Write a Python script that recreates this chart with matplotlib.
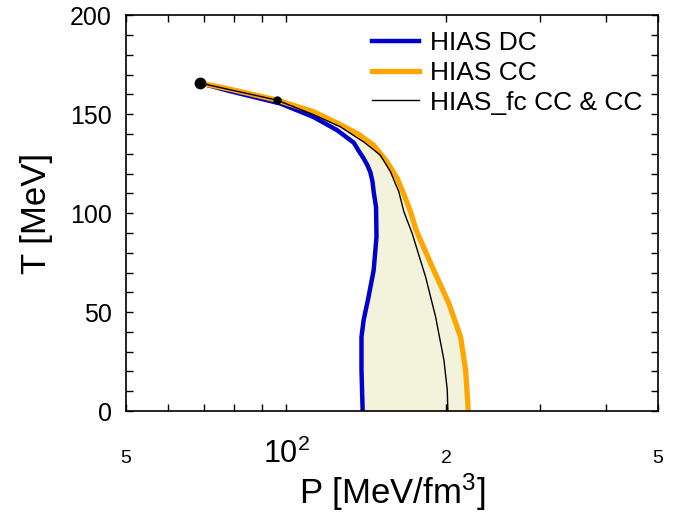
import numpy as np
import matplotlib
matplotlib.use("Agg")
import matplotlib.pyplot as plt
from matplotlib.ticker import FixedLocator

plt.rcParams['font.family'] = ['Liberation Sans', 'DejaVu Sans']
plt.rcParams['mathtext.fontset'] = 'custom'
plt.rcParams['mathtext.rm'] = 'Liberation Sans'
plt.rcParams['mathtext.it'] = 'Liberation Sans'

dc_P = [139.3, 138.6, 138.6, 139.9, 142.9, 146.1, 147.9, 147.6, 146.1, 145.4, 144.0, 142.2, 139.9, 136.7, 134.0, 124.7, 112.5, 97.5, 78.5, 68.9]
dc_T = [0, 20.7, 37.5, 46.0, 57.7, 71.2, 88.0, 103.0, 110.8, 115.7, 120.7, 124.2, 127.6, 131.8, 135.6, 141.9, 148.6, 155.4, 161.6, 165.7]

# HIAS CC (orange)
cc_P = [220.0, 217.5, 212.8, 202.3, 188.2, 175.6, 171.4, 166.5, 161.8, 154.8, 146.1, 136.9, 126.5, 112.7, 96.1, 78.5, 68.9]
cc_T = [0, 20.7, 37.5, 54.4, 72.9, 91.4, 100.7, 109.5, 117.5, 125.9, 134.3, 139.8, 144.7, 151.2, 157.1, 162.6, 165.7]

# HIAS_fc CC & CC (black)
fc_P = [201.4, 200.9, 198.0, 191.0, 182.9, 172.6, 166.5, 162.9, 157.1, 150.4, 139.9, 136.7, 126.5, 112.5, 96.1, 68.9]
fc_T = [0, 10.6, 25.8, 47.6, 67.8, 89.7, 100.7, 110.8, 120.9, 129.3, 136.0, 137.7, 143.6, 149.8, 157.1, 165.7]

# end points
big_dot = (68.9, 165.7)
small_dot = (96.1, 157.1)

x_ticks = [50, 100, 200, 500]
x_ticklabels = ['5', '$10^2$', '2', '5']
x_labelsizes = [14, 22, 14, 14]

fig = plt.figure(figsize=(6.84, 5.23), dpi=100)
ax = fig.add_axes([0.184, 0.214, 0.778, 0.757])

# shaded band between DC and CC
T_grid = np.linspace(0, max(dc_T), 400)
ax.fill_betweenx(T_grid, np.interp(T_grid, dc_T, dc_P), np.interp(T_grid, cc_T, cc_P),
                 color='#f3f3dc', lw=0)

ax.plot(dc_P, dc_T, color='#0000cc', lw=3.2, label='HIAS DC', solid_joinstyle='round')
ax.plot(cc_P, cc_T, color='#ffa500', lw=3.8, label='HIAS CC', solid_joinstyle='round')
ax.plot(fc_P, fc_T, color='black', lw=1.0, label='HIAS_fc CC & CC')
ax.plot(*big_dot, 'o', color='black', ms=7.5)
ax.plot(*small_dot, 'o', color='black', ms=5)

ax.set_xscale('log')
ax.set_xlim(50, 500)
ax.set_ylim(0, 200)

ax.xaxis.set_major_locator(FixedLocator(x_ticks))
ax.xaxis.set_minor_locator(FixedLocator([60, 70, 80, 90, 300, 400]))
ax.set_yticks([0, 50, 100, 150, 200])
ax.set_yticks(np.arange(0, 201, 10), minor=True)

ax.tick_params(which='both', direction='in', top=True, right=True, length=5, width=1)
ax.tick_params(axis='x', which='both', labelbottom=False)
ax.tick_params(axis='y', labelsize=18, pad=10)
for s in ax.spines.values():
    s.set_linewidth(1.2)

# gnuplot-style x tick labels, all sitting on one baseline
xtrans = ax.get_xaxis_transform()
for xv, txt, fs in zip(x_ticks, x_ticklabels, x_labelsizes):
    ax.text(xv, -0.13, txt, transform=xtrans, fontsize=fs, ha='center', va='baseline')

ax.set_xlabel('P [MeV/fm$^3$]', fontsize=25)
ax.xaxis.set_label_coords(0.5, -0.152)
ax.set_ylabel('T [MeV]', fontsize=25, labelpad=12)

ax.legend(loc='upper left', bbox_to_anchor=(0.462, 0.96), frameon=False, fontsize=19,
          handlelength=1.8, handletextpad=0.4, labelspacing=0.22, borderpad=0, borderaxespad=0)

fig.savefig('out.png', dpi=100)
